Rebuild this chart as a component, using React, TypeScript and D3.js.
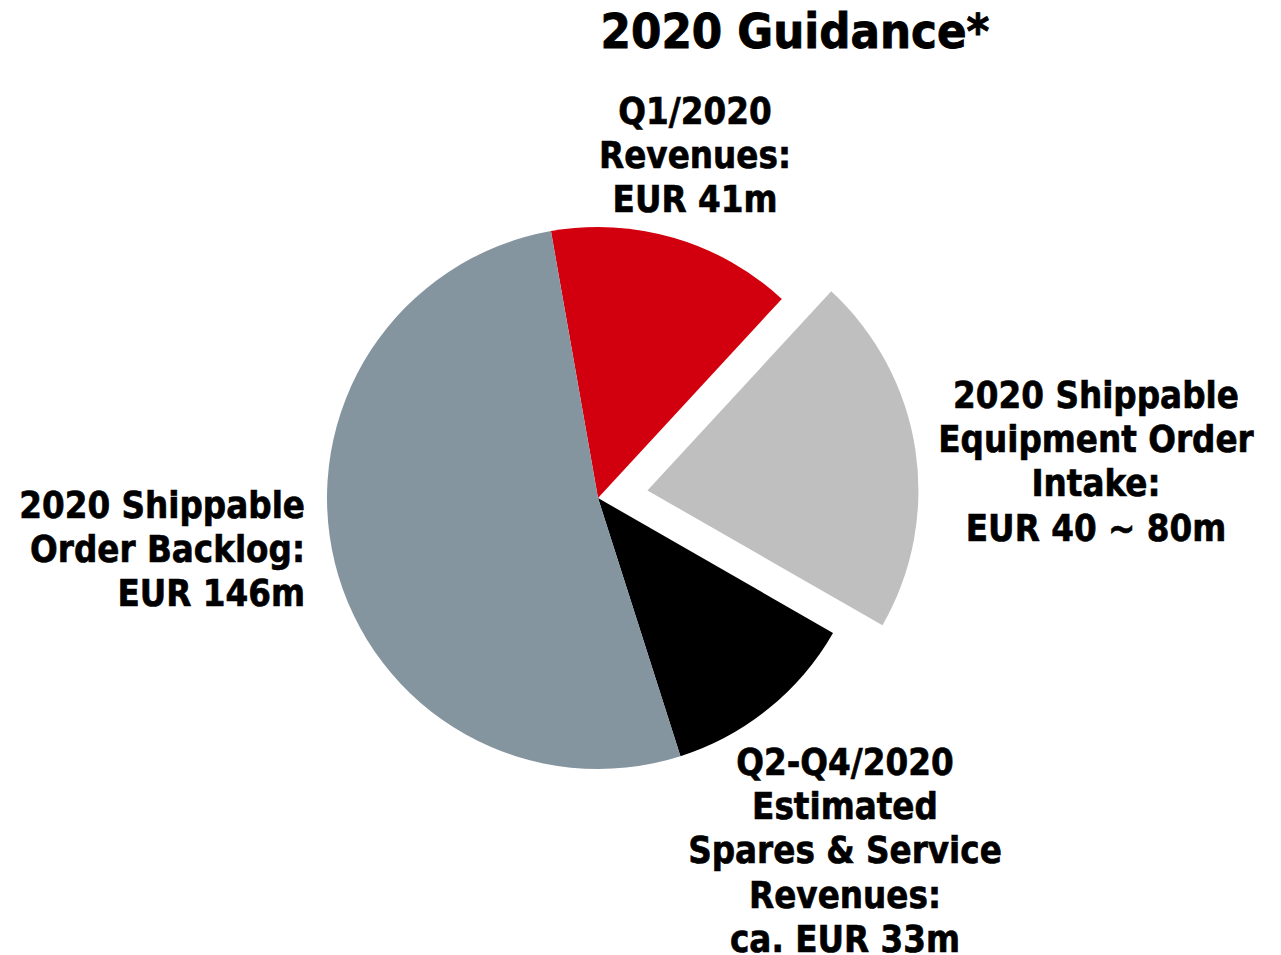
import React from "react";
import * as d3 from "d3";

// slices, clockwise from the top-left edge of the red wedge
const categories = ["Q1 Revenues", "Equipment Order Intake", "Spares & Service", "Order Backlog"];
const values = [41, 60, 33, 146]; // order intake drawn at the middle of the EUR 40 ~ 80m range
const colors = ["#D2000E", "#BFBFBF", "#000000", "#8595A0"];
const exploded = ["Equipment Order Intake"];

const title = "2020 Guidance*";
const labelLines = [
  ["Q1/2020", "Revenues:", "EUR 41m"],
  ["2020 Shippable", "Equipment Order", "Intake:", "EUR 40 ~ 80m"],
  ["Q2-Q4/2020", "Estimated", "Spares & Service", "Revenues:", "ca. EUR 33m"],
  ["2020 Shippable", "Order Backlog:", "EUR 146m"],
];

const width = 1281;
const height = 955;
const cx = 598;
const cy = 498;
const radius = 271;
const explodeBy = 50;
const fontFamily = "'DejaVu Sans', Verdana, sans-serif";
const squeeze = 0.86; // DejaVu is wider than the original Tahoma

// where each label block sits (first baseline) and how it is aligned
const labelLayout = [
  { x: 695, y: 124, anchor: "middle" },
  { x: 1096, y: 408, anchor: "middle" },
  { x: 845, y: 775, anchor: "middle" },
  { x: 305, y: 518, anchor: "end" },
];

const App = () => {
  const data = categories.map((c, i) => ({ name: c, value: values[i], color: colors[i] }));
  const start = (-10 * Math.PI) / 180;
  const pie = d3
    .pie<any>()
    .sort(null)
    .value((d) => d.value)
    .startAngle(start)
    .endAngle(start + 2 * Math.PI);
  const arc = d3.arc<any>().innerRadius(0).outerRadius(radius);
  const arcs = pie(data);

  return (
    <svg
      width={width}
      height={height}
      style={{ position: "absolute", left: 0, top: 0, background: "#fff" }}
    >
      <g transform={`translate(${cx},${cy})`}>
        {arcs.map((a) => {
          let dx = 0;
          let dy = 0;
          if (exploded.includes(a.data.name)) {
            const mid = (a.startAngle + a.endAngle) / 2;
            dx = Math.sin(mid) * explodeBy;
            dy = -Math.cos(mid) * explodeBy;
          }
          return (
            <path
              key={a.data.name}
              d={arc(a) as string}
              fill={a.data.color}
              transform={`translate(${dx},${dy})`}
            />
          );
        })}
      </g>

      <text
        transform={`translate(795,48) scale(0.91,1)`}
        textAnchor="middle"
        fontFamily={fontFamily}
        fontWeight="bold"
        fontSize={48}
        fill="#000"
        stroke="#000"
        strokeWidth={0.9}
      >
        {title}
      </text>

      {labelLines.map((lines, i) => {
        const l = labelLayout[i];
        return (
          <g key={i} transform={`translate(${l.x},${l.y}) scale(${squeeze},1)`}>
            {lines.map((line, j) => (
              <text
                key={j}
                x={0}
                y={j * 44.2}
                textAnchor={l.anchor}
                fontFamily={fontFamily}
                fontWeight="bold"
                fontSize={38}
                fill="#000"
                stroke="#000"
                strokeWidth={0.7}
              >
                {line}
              </text>
            ))}
          </g>
        );
      })}
    </svg>
  );
};

export default App;
